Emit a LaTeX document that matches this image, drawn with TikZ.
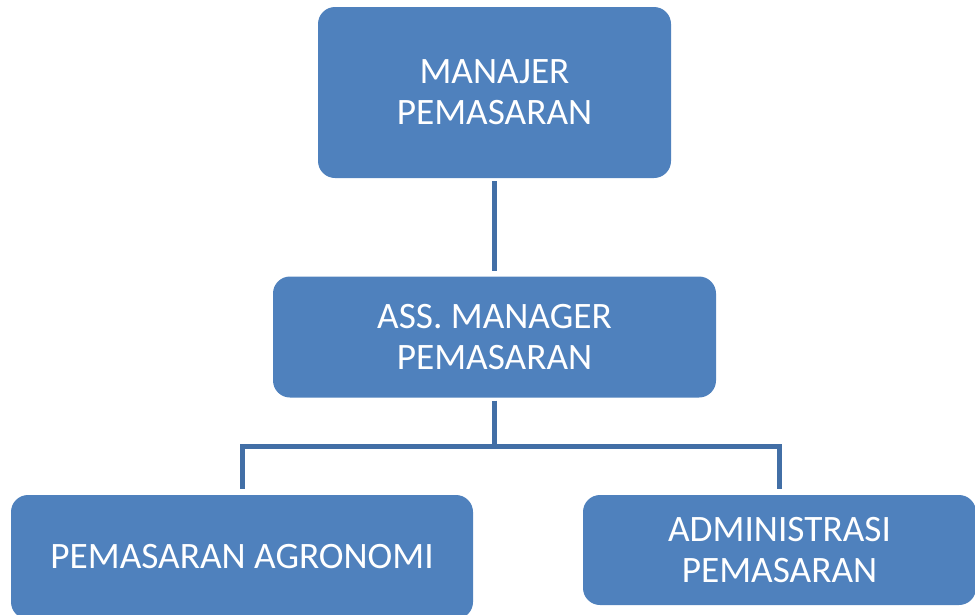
\documentclass[tikz,border=0pt]{standalone}
\usepackage{fontspec}
\setmainfont{Carlito}
\definecolor{boxblue}{RGB}{79,129,189}
\definecolor{linkblue}{RGB}{66,111,166}
\tikzset{
  unit/.style={draw=none, fill=boxblue, rounded corners=17pt, text=white,
    align=center, inner sep=0pt,
    font=\fontsize{37.3}{41}\selectfont},
  link/.style={draw=linkblue, line width=5pt, line join=miter}
}
\begin{document}
\begin{tikzpicture}[x=1pt,y=-1pt]
  \useasboundingbox (0,0) rectangle (975,614);
  \clip (0,0) rectangle (975,614);
  % organisation units
  \node[unit, minimum width=353pt, minimum height=171pt] (mgr) at (494.5,92.5)
    {MANAJER\\PEMASARAN};
  \node[unit, minimum width=443pt, minimum height=121pt] (ass) at (494.5,337)
    {ASS. MANAGER\\PEMASARAN};
  \node[unit, minimum width=462pt, minimum height=124pt] (agr) at (242,557)
    {PEMASARAN AGRONOMI};
  \node[unit, minimum width=393pt, minimum height=110pt] (adm) at (779.5,550)
    {ADMINISTRASI\\PEMASARAN};
  % reporting lines
  \coordinate (bus) at (494.5,446);
  \draw[link, shorten <=3pt, shorten >=5pt] (mgr.south) -- (ass.north);
  \draw[link, shorten <=3pt] (ass.south) -- (bus);
  \draw[link, shorten <=6pt, shorten >=6pt] (agr.north) |- (bus) -| (adm.north);
\end{tikzpicture}
\end{document}
